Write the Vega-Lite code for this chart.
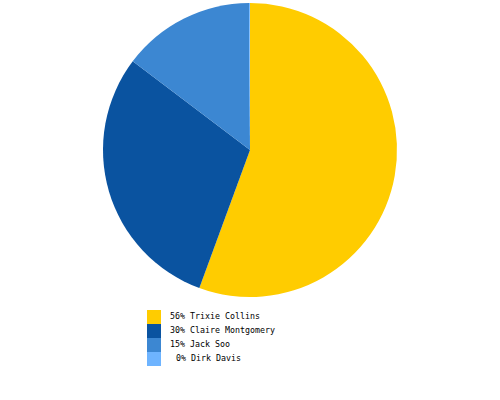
{
  "$schema": "https://vega.github.io/schema/vega-lite/v6.json",
  "width": 500,
  "height": 300,
  "autosize": {"type": "none"},
  "padding": {"top": 0, "left": 0, "right": 0, "bottom": 100},
  "background": "white",
  "view": {"stroke": null},
  "data": {
    "values": [
      {"name": "Trixie Collins", "label": "56% Trixie Collins", "value": 55.6},
      {"name": "Claire Montgomery", "label": "30% Claire Montgomery", "value": 29.7},
      {"name": "Jack Soo", "label": "15% Jack Soo", "value": 14.6},
      {"name": "Dirk Davis", "label": "\u28000% Dirk Davis", "value": 0.1}
    ]
  },
  "mark": {"type": "arc", "radius": 147, "stroke": null},
  "encoding": {
    "theta": {"field": "value", "type": "quantitative", "stack": true},
    "order": {"field": "value", "type": "quantitative", "sort": "descending"},
    "color": {
      "field": "label",
      "type": "nominal",
      "sort": null,
      "scale": {
        "domain": ["56% Trixie Collins", "30% Claire Montgomery", "15% Jack Soo", "\u28000% Dirk Davis"],
        "range": ["#ffcc00", "#0a53a0", "#3c87d2", "#6eb4ff"]
      },
      "legend": {
        "orient": "none",
        "legendX": 147,
        "legendY": 310,
        "title": null,
        "symbolType": "square",
        "symbolSize": 196,
        "symbolStrokeWidth": 0,
        "symbolOpacity": 1,
        "rowPadding": 0,
        "labelFont": "DejaVu Sans Mono",
        "labelFontSize": 8.3,
        "labelColor": "#000000",
        "labelOffset": 9,
        "padding": 0,
        "offset": 0
      }
    }
  }
}
